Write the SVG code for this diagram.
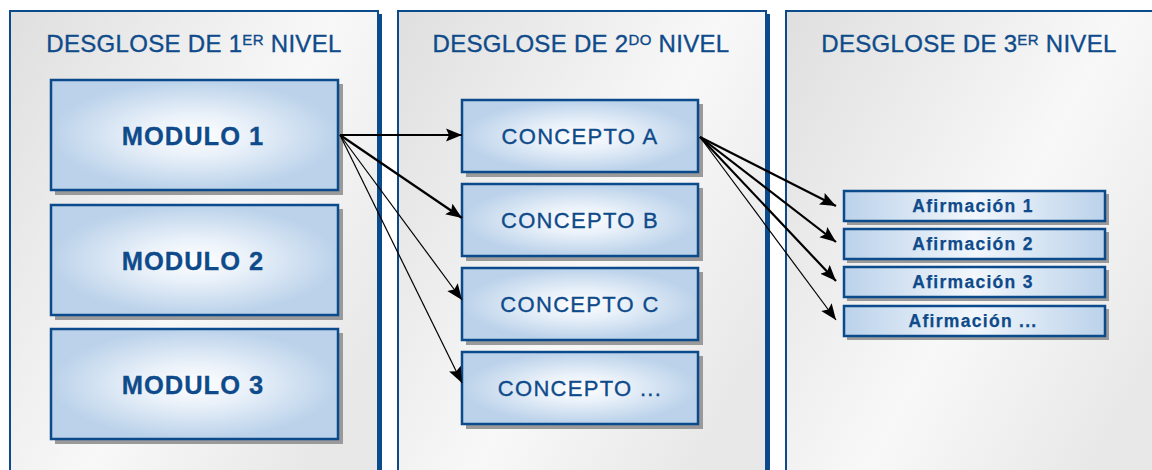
<svg xmlns="http://www.w3.org/2000/svg" width="1152" height="470" viewBox="0 0 1152 470">
<defs>
<linearGradient id="panelG" x1="0" y1="0" x2="1" y2="0.7">
<stop offset="0" stop-color="#dfdfdf"/>
<stop offset="0.6" stop-color="#f8f8f8"/>
<stop offset="1" stop-color="#e8e8e8"/>
</linearGradient>
<radialGradient id="boxG" cx="0.5" cy="0.5" r="0.5">
<stop offset="0" stop-color="#ffffff"/>
<stop offset="0.4" stop-color="#e8f0f9"/>
<stop offset="1" stop-color="#bbd2ea"/>
</radialGradient>
<linearGradient id="smallG" x1="0" y1="0" x2="1" y2="0">
<stop offset="0" stop-color="#bbd2ea"/>
<stop offset="0.5" stop-color="#f2f7fc"/>
<stop offset="1" stop-color="#bbd2ea"/>
</linearGradient>
<marker id="ah" markerUnits="userSpaceOnUse" markerWidth="18" markerHeight="14" refX="16" refY="7" orient="auto">
<path d="M0,0.5 L16,7 L0,13.5 L3,7 z" fill="#000"/>
</marker>
</defs>
<style>
.panel{fill:url(#panelG);stroke:#0b4a8b;stroke-width:2}
.pshadow{fill:#0b4a8b}
.title{font-family:"Liberation Sans",Arial,sans-serif;font-size:24px;fill:#0f4b8a;stroke:#0f4b8a;stroke-width:0.35;text-anchor:middle;letter-spacing:0.3px}
.shadow{fill:#9a9a9a}
.box{fill:url(#boxG);stroke:#0b4a8b;stroke-width:2.5}
.sbox{fill:url(#smallG);stroke:#0b4a8b;stroke-width:2.5}
.mtext{font-family:"Liberation Sans",Arial,sans-serif;font-size:25.5px;font-weight:bold;fill:#0f4b8a;stroke:#0f4b8a;stroke-width:0.3;text-anchor:middle;letter-spacing:1px}
.ctext{font-family:"Liberation Sans",Arial,sans-serif;font-size:22px;fill:#0f4b8a;stroke:#0f4b8a;stroke-width:0.35;text-anchor:middle;letter-spacing:1.3px}
.atext{font-family:"Liberation Sans",Arial,sans-serif;font-size:17.5px;font-weight:bold;fill:#0f4b8a;stroke:#0f4b8a;stroke-width:0.25;text-anchor:middle;letter-spacing:1.3px}
.thick{stroke:#000;stroke-width:2.2;fill:none;marker-end:url(#ah)}
.thin{stroke:#000;stroke-width:1.2;fill:none;marker-end:url(#ah)}
</style>
<rect width="1152" height="470" fill="#ffffff"/>

<g id="panel1">
<rect class="pshadow" x="377" y="14" width="5" height="470"/>
<rect class="panel" x="10" y="11" width="368" height="470"/>
<text class="title" x="194" y="52">DESGLOSE DE 1<tspan font-size="15" dy="-7">ER</tspan><tspan dy="7"> NIVEL</tspan></text>
</g>
<g id="panel2">
<rect class="pshadow" x="765" y="14" width="5" height="470"/>
<rect class="panel" x="398" y="11" width="368" height="470"/>
<text class="title" x="581" y="52">DESGLOSE DE 2<tspan font-size="15" dy="-7">DO</tspan><tspan dy="7"> NIVEL</tspan></text>
</g>
<g id="panel3">
<rect class="panel" x="786" y="11" width="380" height="470"/>
<text class="title" x="969" y="52">DESGLOSE DE 3<tspan font-size="15" dy="-7">ER</tspan><tspan dy="7"> NIVEL</tspan></text>
</g>

<g id="modulo1">
<rect class="shadow" x="55" y="84" width="288" height="111"/>
<rect class="box" x="51" y="80" width="287" height="110"/>
<text class="mtext" x="193" y="145">MODULO 1</text>
</g>
<g id="modulo2">
<rect class="shadow" x="55" y="209" width="288" height="111"/>
<rect class="box" x="51" y="205" width="287" height="110"/>
<text class="mtext" x="193" y="270">MODULO 2</text>
</g>
<g id="modulo3">
<rect class="shadow" x="55" y="333" width="288" height="111"/>
<rect class="box" x="51" y="329" width="287" height="110"/>
<text class="mtext" x="193" y="394">MODULO 3</text>
</g>

<g id="conceptoA">
<rect class="shadow" x="466" y="104" width="237" height="73"/>
<rect class="box" x="462" y="100" width="236" height="72"/>
<text class="ctext" x="580" y="144">CONCEPTO A</text>
</g>
<g id="conceptoB">
<rect class="shadow" x="466" y="188" width="237" height="73"/>
<rect class="box" x="462" y="184" width="236" height="72"/>
<text class="ctext" x="580" y="228">CONCEPTO B</text>
</g>
<g id="conceptoC">
<rect class="shadow" x="466" y="272" width="237" height="73"/>
<rect class="box" x="462" y="268" width="236" height="72"/>
<text class="ctext" x="580" y="312">CONCEPTO C</text>
</g>
<g id="conceptoEtc">
<rect class="shadow" x="466" y="356" width="237" height="73"/>
<rect class="box" x="462" y="352" width="236" height="72"/>
<text class="ctext" x="580" y="396">CONCEPTO ...</text>
</g>

<g id="afirmacion1">
<rect class="shadow" x="847" y="194" width="262" height="31"/>
<rect class="sbox" x="844" y="191" width="261" height="30"/>
<text class="atext" x="973" y="212">Afirmación 1</text>
</g>
<g id="afirmacion2">
<rect class="shadow" x="847" y="232" width="262" height="31"/>
<rect class="sbox" x="844" y="229" width="261" height="30"/>
<text class="atext" x="973" y="250">Afirmación 2</text>
</g>
<g id="afirmacion3">
<rect class="shadow" x="847" y="270" width="262" height="31"/>
<rect class="sbox" x="844" y="267" width="261" height="30"/>
<text class="atext" x="973" y="288">Afirmación 3</text>
</g>
<g id="afirmacionEtc">
<rect class="shadow" x="847" y="309" width="262" height="31"/>
<rect class="sbox" x="844" y="306" width="261" height="30"/>
<text class="atext" x="973" y="327">Afirmación ...</text>
</g>

<g id="connectors">
<line class="thick" x1="340" y1="135" x2="462" y2="135"/>
<line class="thick" x1="340" y1="135" x2="462" y2="218"/>
<line class="thin" x1="340" y1="135" x2="462" y2="300"/>
<line class="thin" x1="340" y1="135" x2="462" y2="383"/>
<line class="thick" x1="700" y1="137" x2="836" y2="206"/>
<line class="thick" x1="700" y1="137" x2="836" y2="242"/>
<line class="thick" x1="700" y1="137" x2="836" y2="281"/>
<line class="thin" x1="700" y1="137" x2="836" y2="320"/>
</g>
</svg>
